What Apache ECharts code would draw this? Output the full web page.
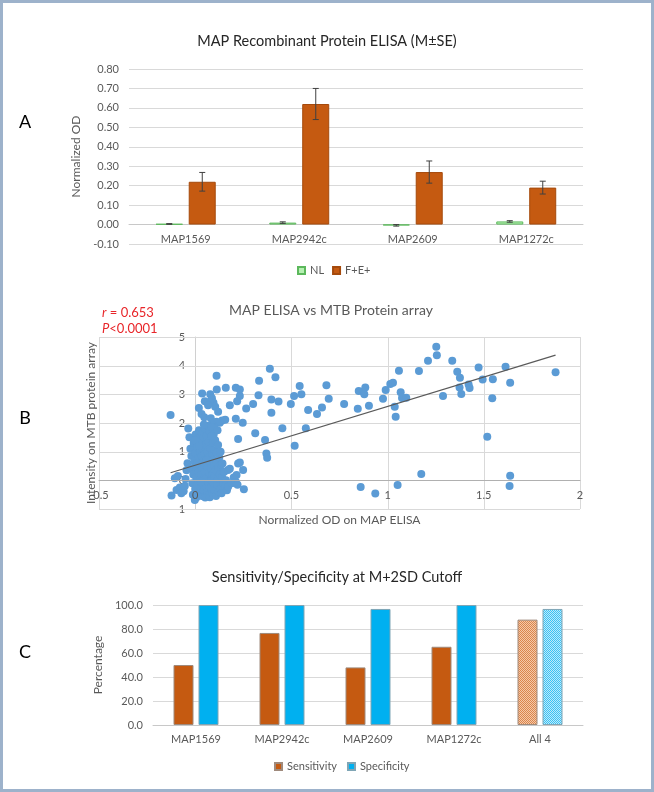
<!DOCTYPE html>
<html><head><meta charset="utf-8">
<script src="https://cdn.jsdelivr.net/npm/echarts@6/dist/echarts.min.js"></script>
<style>html,body{margin:0;padding:0;background:#fff}#c{width:654px;height:792px}</style>
</head><body><div id="c"></div>
<script>
// ---------- Panel A data ----------
const elisaCategories = ['MAP1569', 'MAP2942c', 'MAP2609', 'MAP1272c'];
const elisaNL = [0.003, 0.010, -0.004, 0.016];
const elisaNLErr = [0.002, 0.004, 0.004, 0.004];
const elisaFE = [0.22, 0.62, 0.27, 0.19];
const elisaFEErr = [0.048, 0.08, 0.057, 0.033];
const elisaAxis = [-0.1, 0.8, 0.1]; // min, max, interval

// ---------- Panel B data ----------
const scatterSpread = [
  [-0.128,2.28],[-0.036,1.81],[0.111,3.65],[0.036,3.03],[0.019,2.52],[0.078,3.0],[0.087,2.86],[0.095,2.71],
  [0.076,2.73],[0.104,2.57],[0.119,2.39],[0.05,2.76],[0.067,2.62],[0.033,2.31],[0.047,2.2],[0.081,2.17],
  [0.128,2.01],[0.14,2.09],[0.156,2.11],[0.112,3.17],[0.159,3.23],[0.211,3.23],[0.232,3.17],[0.232,2.94],
  [0.218,2.76],[0.18,2.62],[0.265,2.51],[0.301,2.66],[0.329,2.97],[0.332,3.47],[0.388,3.89],[0.417,3.6],
  [0.396,2.82],[0.433,2.75],[0.396,2.36],[0.211,2.15],[0.247,2.01],[0.223,1.44],[0.312,1.64],[0.363,1.41],
  [0.37,0.94],[0.374,0.79],[0.453,1.82],[0.497,2.66],[0.514,2.94],[0.543,3.29],[0.552,3.0],[0.517,1.21],
  [0.587,2.45],[0.575,1.82],[0.633,2.31],[0.659,2.54],[0.682,3.32],[0.694,2.85],[0.774,2.66],[0.845,2.5],
  [0.85,3.12],[0.872,3.09],[0.884,3.24],[0.879,3.0],[0.903,2.6],[0.86,-0.23],[0.936,-0.46],[0.976,2.85],
  [0.99,3.15],[1.014,3.36],[1.028,3.4],[1.037,2.57],[1.042,2.22],[1.059,3.82],[1.068,3.07],[1.075,2.87],
  [1.097,2.88],[1.052,-0.16],[1.163,3.81],[1.175,0.22],[1.21,4.17],[1.253,4.66],[1.256,4.36],[1.288,2.94],
  [1.336,4.17],[1.362,3.79],[1.376,3.58],[1.374,3.24],[1.421,3.34],[1.426,3.22],[1.383,3.01],[1.473,3.94],
  [1.494,3.52],[1.518,1.52],[1.544,2.86],[1.547,3.53],[1.613,3.96],[1.637,3.4],[1.637,0.16],[1.634,-0.2],
  [1.873,3.77],[0.111,2.04],[0.09,1.93],[0.1,1.85]
];
const scatterCluster = [
  [-0.123,-0.53],[-0.097,-0.34],[-0.106,0.07],[-0.09,0.15],[-0.08,-0.25],[-0.072,-0.45],[-0.06,-0.38],
  [-0.054,-0.2],[-0.05,0.05],[-0.045,0.35],[-0.04,0.6],[-0.03,1.5],[-0.025,1.1],[-0.02,0.85],[-0.018,0.4],
  [-0.015,-0.1],[-0.012,-0.5],[-0.01,0.2],[-0.008,1.3],[-0.005,0.65],[-0.002,-0.69],[0.0,-0.3],[0.0,0.95],
  [0.002,1.6],[0.005,0.1],[0.006,-0.6],[0.008,0.45],[0.01,1.15],[0.012,-0.15],[0.014,0.75],[0.015,1.45],
  [0.018,0.3],[0.02,-0.45],[0.02,1.75],[0.022,0.55],[0.025,0.0],[0.026,1.0],[0.028,-0.25],[0.03,1.3],
  [0.032,0.2],[0.034,0.85],[0.035,-0.55],[0.036,1.65],[0.038,0.4],[0.04,-0.1],[0.04,1.1],[0.042,0.65],
  [0.044,1.5],[0.045,-0.35],[0.046,0.05],[0.048,0.9],[0.05,1.8],[0.05,0.3],[0.052,-0.6],[0.054,1.25],
  [0.055,0.55],[0.056,-0.2],[0.058,0.75],[0.06,1.55],[0.06,0.1],[0.062,-0.4],[0.064,1.0],[0.065,0.45],
  [0.066,1.9],[0.068,-0.05],[0.07,0.8],[0.07,1.35],[0.072,-0.5],[0.074,0.25],[0.075,1.7],[0.076,-0.59],
  [0.078,0.6],[0.08,1.1],[0.08,-0.25],[0.082,0.4],[0.084,1.5],[0.085,0.0],[0.086,1.85],[0.088,0.9],
  [0.09,-0.45],[0.09,0.2],[0.092,1.3],[0.094,0.7],[0.095,-0.1],[0.096,1.6],[0.098,0.5],[0.1,1.05],
  [0.1,-0.35],[0.102,0.15],[0.104,1.4],[0.106,0.35],[0.108,-0.55],[0.11,0.96],[0.112,0.6],[0.114,-0.15],
  [0.116,1.75],[0.118,0.05],[0.119,1.23],[0.12,0.45],[0.122,-0.4],[0.125,0.8],[0.128,0.2],[0.13,-0.3],
  [0.132,1.0],[0.135,0.55],[0.137,-0.45],[0.14,0.1],[0.142,0.59],[0.145,-0.1],[0.148,0.3],[0.151,0.3],
  [0.155,-0.2],[0.16,0.0],[0.165,-0.35],[0.171,0.36],[0.171,-0.22],[0.18,0.4],[0.19,-0.1],[0.2,0.1],
  [0.211,-0.05],[0.215,0.19],[0.223,0.59],[0.232,0.62],[0.249,0.36],[0.253,-0.31],[0.22,-0.15],
  [0.0,1.4],[0.02,1.2],[0.085,1.55],[0.01,0.6],[0.03,-0.05],[0.045,1.95],[0.06,0.7]
];
const trendSlope = 2.05;
const trendIntercept = 0.527;
const scatterAxisX = [-0.5, 2, 0.5];
const scatterAxisY = [-1, 5, 1];

// ---------- Panel C data ----------
const ssCategories = ['MAP1569', 'MAP2942c', 'MAP2609', 'MAP1272c', 'All 4'];
const sensitivity = [50.0, 76.7, 48.0, 65.2, 87.8];
const specificity = [100, 100, 96.7, 100, 96.7];
const ssAxis = [0, 100, 20];

// ---------- build ----------
const FONT = 'Lato, "Noto Sans", sans-serif';
const GRID_C = '#d9d9d9';
const LBL_C = '#595959';
const ORANGE = '#c55a11';
const BLUE = '#00b0f0';

function checker(a, b) {
  const c = document.createElement('canvas');
  c.width = 2; c.height = 2;
  const g = c.getContext('2d');
  g.fillStyle = b; g.fillRect(0, 0, 2, 2);
  g.fillStyle = a; g.fillRect(0, 0, 1, 1); g.fillRect(1, 1, 1, 1);
  return { image: c, repeat: 'repeat' };
}

function errRender(offset) {
  return function (params, api) {
    const cat = api.value(0), v = api.value(1), e = api.value(2);
    const x = api.coord([cat, 0])[0] + offset;
    const hi = api.coord([cat, v + e])[1];
    const lo = api.coord([cat, v - e])[1];
    const cw = 3;
    const style = { stroke: '#404040', lineWidth: 1 };
    return { type: 'group', children: [
      { type: 'line', shape: { x1: x, y1: hi, x2: x, y2: lo }, style },
      { type: 'line', shape: { x1: x - cw, y1: hi, x2: x + cw, y2: hi }, style },
      { type: 'line', shape: { x1: x - cw, y1: lo, x2: x + cw, y2: lo }, style }
    ]};
  };
}

const allPts = scatterSpread.concat(scatterCluster);
const xs = allPts.map(p => p[0]);
const tMin = Math.min.apply(null, xs), tMax = Math.max.apply(null, xs);
const trendData = [[tMin, trendIntercept + trendSlope * tMin], [tMax, trendIntercept + trendSlope * tMax]];

// gridline values for panel B (zero lines are the axes themselves)
function ticks(a) { const r = []; for (let k = 0; a[0] + k * a[2] <= a[1] + 1e-9; k++) r.push(+(a[0] + k * a[2]).toFixed(6)); return r; }
const gridXs = ticks(scatterAxisX).filter(v => v !== 0);
const gridYs = ticks(scatterAxisY).filter(v => v !== 0);
const gridSegs = gridYs.map(v => [scatterAxisX[0], v, scatterAxisX[1], v])
  .concat(gridXs.map(v => [v, scatterAxisY[0], v, scatterAxisY[1]]));

const axisLbl = { color: LBL_C, fontSize: 11, fontFamily: FONT };
const nameStyle = { color: LBL_C, fontSize: 12, fontFamily: FONT };

// grid geometry (px)
const G0 = { left: 129, right: 71, top: 69, height: 175 };
const G1 = { left: 99, right: 74, top: 337, height: 172 };
const G2 = { left: 153, right: 71, top: 605, height: 120 };
// offsets so that axes sit on the zero lines
const offA = -G0.height * (0 - elisaAxis[0]) / (elisaAxis[1] - elisaAxis[0]);
const offBx = -G1.height * (0 - scatterAxisY[0]) / (scatterAxisY[1] - scatterAxisY[0]);
const offBy = -(654 - G1.left - G1.right) * (0 - scatterAxisX[0]) / (scatterAxisX[1] - scatterAxisX[0]);

const baseGraphic = [
  { type: 'rect', shape: { x: 1.5, y: 1.5, width: 651, height: 789 }, style: { fill: 'none', stroke: '#9db2cb', lineWidth: 3 }, silent: true },
  { type: 'text', x: 25, y: 122, style: { text: 'A', font: '18px ' + FONT, fill: '#000', align: 'center', verticalAlign: 'middle', textAlign: 'center', textVerticalAlign: 'middle' } },
  { type: 'text', x: 25, y: 418, style: { text: 'B', font: '18px ' + FONT, fill: '#000', align: 'center', verticalAlign: 'middle', textAlign: 'center', textVerticalAlign: 'middle' } },
  { type: 'text', x: 25, y: 652, style: { text: 'C', font: '18px ' + FONT, fill: '#000', align: 'center', verticalAlign: 'middle', textAlign: 'center', textVerticalAlign: 'middle' } },
  { type: 'text', x: 102, y: 313, style: { text: '{i|r} = 0.653', font: '13px ' + FONT, fill: '#e8262a', verticalAlign: 'middle', textVerticalAlign: 'middle',
      rich: { i: { fontStyle: 'italic', fontSize: 13, fontFamily: FONT, fill: '#e8262a', color: '#e8262a' } } } },
  { type: 'text', x: 102, y: 329, style: { text: '{i|P}<0.0001', font: '13px ' + FONT, fill: '#e8262a', verticalAlign: 'middle', textVerticalAlign: 'middle',
      rich: { i: { fontStyle: 'italic', fontSize: 13, fontFamily: FONT, fill: '#e8262a', color: '#e8262a' } } } }
];

const chart = echarts.init(document.getElementById('c'), null, { renderer: 'canvas' });
chart.setOption({
  animation: false,
  backgroundColor: '#fff',
  textStyle: { fontFamily: FONT },
  title: [
    { text: 'MAP Recombinant Protein ELISA (M\u00B1SE)', left: 327, top: 34, textAlign: 'center', padding: 0,
      textStyle: { fontSize: 14.5, fontWeight: 'normal', color: '#262626', fontFamily: FONT } },
    { text: 'MAP ELISA vs MTB Protein array', left: 331, top: 303, textAlign: 'center', padding: 0,
      textStyle: { fontSize: 14, fontWeight: 'normal', color: '#595959', fontFamily: FONT } },
    { text: 'Sensitivity/Specificity at M+2SD Cutoff', left: 337, top: 570, textAlign: 'center', padding: 0,
      textStyle: { fontSize: 14.5, fontWeight: 'normal', color: '#262626', fontFamily: FONT } }
  ],
  legend: [
    { data: ['NL', 'F+E+'], left: 297, top: 265, itemWidth: 7, itemHeight: 7, itemGap: 8, icon: 'rect',
      textStyle: { fontSize: 11, color: LBL_C, fontFamily: FONT }, padding: 0 },
    { data: ['Sensitivity', 'Specificity'], left: 274, top: 761, itemWidth: 7, itemHeight: 7, itemGap: 10, icon: 'rect',
      textStyle: { fontSize: 11, color: LBL_C, fontFamily: FONT }, padding: 0 }
  ],
  grid: [
    Object.assign({ containLabel: false, outerBoundsMode: 'none' }, G0),
    Object.assign({ containLabel: false, outerBoundsMode: 'none' }, G1),
    Object.assign({ containLabel: false, outerBoundsMode: 'none' }, G2)
  ],
  xAxis: [
    { gridIndex: 0, type: 'category', data: elisaCategories, offset: offA,
      axisLine: { onZero: false, lineStyle: { color: '#c8c8c8' } }, axisTick: { show: false },
      axisLabel: Object.assign({ margin: 9 }, axisLbl) },
    { gridIndex: 1, type: 'value', min: scatterAxisX[0], max: scatterAxisX[1], interval: scatterAxisX[2], offset: offBx, z: 4,
      axisLine: { show: true, onZero: false, lineStyle: { color: '#b0b0b0' } }, axisTick: { show: false },
      splitLine: { show: false },
      axisLabel: Object.assign({ margin: 10, showMinLabel: true, showMaxLabel: true }, axisLbl),
      name: 'Normalized OD on MAP ELISA', nameLocation: 'middle', nameGap: 34, nameTextStyle: nameStyle },
    { gridIndex: 2, type: 'category', data: ssCategories,
      axisLine: { onZero: false, lineStyle: { color: '#c8c8c8' } }, axisTick: { show: false },
      axisLabel: Object.assign({ margin: 9 }, axisLbl) }
  ],
  yAxis: [
    { gridIndex: 0, type: 'value', min: elisaAxis[0], max: elisaAxis[1], interval: elisaAxis[2],
      axisLine: { show: false, onZero: false }, axisTick: { show: false },
      splitLine: { show: true, lineStyle: { color: GRID_C } },
      axisLabel: Object.assign({ margin: 10, formatter: v => v.toFixed(2) }, axisLbl),
      name: 'Normalized OD', nameLocation: 'middle', nameGap: 40, nameTextStyle: nameStyle },
    { gridIndex: 1, type: 'value', min: scatterAxisY[0], max: scatterAxisY[1], interval: scatterAxisY[2], offset: offBy, z: 1,
      axisLine: { show: true, onZero: false, lineStyle: { color: '#d0d0d0' } }, axisTick: { show: false },
      splitLine: { show: false },
      axisLabel: Object.assign({ margin: 10, showMinLabel: true, showMaxLabel: true }, axisLbl),
      name: 'Intensity on MTB protein array', nameLocation: 'middle', nameGap: 98, nameTextStyle: nameStyle },
    { gridIndex: 2, type: 'value', min: ssAxis[0], max: ssAxis[1], interval: ssAxis[2],
      axisLine: { show: false, onZero: false }, axisTick: { show: false },
      splitLine: { show: true, lineStyle: { color: GRID_C } },
      axisLabel: Object.assign({ margin: 10, formatter: v => v.toFixed(1) }, axisLbl),
      name: 'Percentage', nameLocation: 'middle', nameGap: 42, nameTextStyle: nameStyle }
  ],
  series: [
    { name: 'NL', type: 'bar', xAxisIndex: 0, yAxisIndex: 0, data: elisaNL, barWidth: 27, barGap: '22%',
      itemStyle: { color: '#b6f0b2', borderColor: '#5cb85c', borderWidth: 1 } },
    { name: 'F+E+', type: 'bar', xAxisIndex: 0, yAxisIndex: 0, data: elisaFE, barWidth: 27, barGap: '22%',
      itemStyle: { color: ORANGE, borderColor: '#a54a0c', borderWidth: 1 } },
    { type: 'custom', xAxisIndex: 0, yAxisIndex: 0, renderItem: errRender(-16.5), z: 5,
      data: elisaNL.map((v, i) => [i, v, elisaNLErr[i]]) },
    { type: 'custom', xAxisIndex: 0, yAxisIndex: 0, renderItem: errRender(16.5), z: 5,
      data: elisaFE.map((v, i) => [i, v, elisaFEErr[i]]) },
    { type: 'scatter', xAxisIndex: 1, yAxisIndex: 1, data: allPts, symbolSize: 8, z: 3,
      itemStyle: { color: '#5b9bd5', opacity: 1 } },
    { type: 'line', xAxisIndex: 1, yAxisIndex: 1, data: trendData, showSymbol: false, symbol: 'none', z: 5,
      lineStyle: { color: '#5a5a5a', width: 1.2 } },
    { name: 'Sensitivity', type: 'bar', xAxisIndex: 2, yAxisIndex: 2, barWidth: 20, barGap: '25%',
      data: sensitivity.map((v, i) => i === 4 ? { value: v, itemStyle: { color: checker('#d9864e', '#f6c9a8') } } : v),
      itemStyle: { color: ORANGE, borderColor: '#9f8a7c', borderWidth: 1 } },
    { name: 'Specificity', type: 'bar', xAxisIndex: 2, yAxisIndex: 2, barWidth: 20, barGap: '25%',
      data: specificity.map((v, i) => i === 4 ? { value: v, itemStyle: { color: checker('#3cc2f3', '#bfeafb') } } : v),
      itemStyle: { color: BLUE, borderColor: '#7fa5b5', borderWidth: 1 } }
  ],
  graphic: baseGraphic
});

// Panel B gridlines, placed through the chart's own scales
const finder = { xAxisIndex: 1, yAxisIndex: 1 };
const snap = v => Math.round(v) + 0.5;
const gridGraphic = gridSegs.map(s => {
  const a = chart.convertToPixel(finder, [s[0], s[1]]);
  const b = chart.convertToPixel(finder, [s[2], s[3]]);
  const horiz = s[1] === s[3];
  const shape = horiz ? { x1: a[0], y1: snap(a[1]), x2: b[0], y2: snap(b[1]) }
                      : { x1: snap(a[0]), y1: a[1], x2: snap(b[0]), y2: b[1] };
  return { type: 'line', z: 2, silent: true, shape, style: { stroke: GRID_C, lineWidth: 1 } };
});
chart.setOption({ graphic: baseGraphic.concat(gridGraphic) });
</script>
</body></html>
